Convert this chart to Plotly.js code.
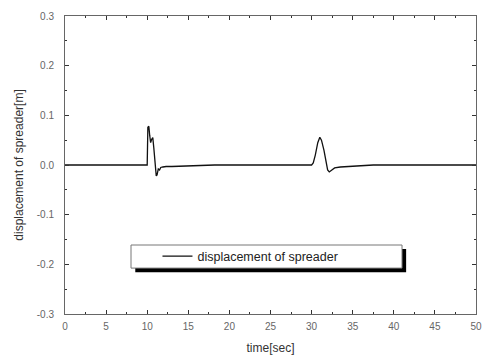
<!DOCTYPE html>
<html>
<head>
<meta charset="utf-8">
<script src="https://cdn.plot.ly/plotly-3.0.1.min.js"></script>
<style>html,body{margin:0;padding:0;background:#fff;}#chart{width:486px;height:358px;}</style>
</head>
<body>
<div id="chart"></div>
<script>
var timeSec = [0, 10.0, 10.08, 10.2, 10.3, 10.42, 10.55, 10.68, 10.8, 10.95, 11.1, 11.2, 11.35, 11.5, 11.65, 11.9, 12.3, 13, 15, 17.5, 18.2,
               30.0, 30.2, 30.45, 30.75, 31.0, 31.2, 31.5, 31.75, 31.95, 32.15, 32.4, 32.8, 33.5, 35, 36.9, 37.5, 50];
var displacement = [0, 0, 0.076, 0.078, 0.06, 0.045, 0.052, 0.055, 0.035, 0.0, -0.022, -0.02, -0.008, -0.01, -0.005, -0.004, -0.003, -0.003, -0.002, -0.001, 0,
               0, 0.004, 0.02, 0.045, 0.056, 0.05, 0.03, 0.003, -0.01, -0.014, -0.011, -0.006, -0.004, -0.003, -0.001, 0, 0];
var seriesName = 'displacement of spreader';
var xTicks = [0,5,10,15,20,25,30,35,40,45,50];
var yTicks = [-0.3,-0.2,-0.1,0.0,0.1,0.2,0.3];
var yTickText = ['-0.3','-0.2','-0.1','0.0','0.1','0.2','0.3'];

var trace = {
  x: timeSec, y: displacement, mode: 'lines', name: seriesName,
  line: {color: '#111', width: 1.3}, showlegend: true
};
var tickFont = {family: 'Liberation Sans, Arial, sans-serif', size: 10, color: '#666'};
var layout = {
  width: 486, height: 358,
  margin: {l: 65, r: 10, t: 16, b: 44},
  paper_bgcolor: '#fff', plot_bgcolor: '#fff',
  xaxis: {
    range: [0, 50], tickvals: xTicks, ticks: 'inside', ticklen: 4, tickcolor: '#333',
    minor: {dtick: 2.5, tick0: 0, ticks: 'inside', ticklen: 2, tickcolor: '#333'},
    showline: true, linecolor: '#666', linewidth: 1, mirror: 'ticks',
    showgrid: false, zeroline: false, tickfont: tickFont, ticklabelstandoff: 3,
    title: {text: 'time[sec]', font: {family: 'Liberation Sans, Arial, sans-serif', size: 12, color: '#333'}, standoff: 12}
  },
  yaxis: {
    range: [-0.3, 0.3], tickvals: yTicks, ticktext: yTickText, ticks: 'inside', ticklen: 4, tickcolor: '#333',
    minor: {dtick: 0.05, tick0: 0, ticks: 'inside', ticklen: 2, tickcolor: '#333'},
    showline: true, linecolor: '#666', linewidth: 1, mirror: 'ticks',
    showgrid: false, zeroline: false, tickfont: tickFont, ticklabelstandoff: 8,
    title: {text: 'displacement of spreader[m]', font: {family: 'Liberation Sans, Arial, sans-serif', size: 12, color: '#333'}, standoff: 10}
  },
  legend: {
    x: 0.225, y: 0.193, xanchor: 'left', yanchor: 'middle',
    bgcolor: 'rgba(0,0,0,0)', borderwidth: 0,
    font: {family: 'Liberation Sans, Arial, sans-serif', size: 12.5, color: '#222'}
  },
  shapes: [
    {type: 'rect', xref: 'paper', yref: 'paper', x0: 0.171, x1: 0.83, y0: 0.14, y1: 0.218,
     fillcolor: '#000', line: {width: 0}, layer: 'above'},
    {type: 'rect', xref: 'paper', yref: 'paper', x0: 0.1606, x1: 0.82, y0: 0.154, y1: 0.2315,
     fillcolor: '#fff', line: {color: '#777', width: 1}, layer: 'above'}
  ]
};
Plotly.newPlot('chart', [trace], layout, {displayModeBar: false, staticPlot: true});
</script>
</body>
</html>
